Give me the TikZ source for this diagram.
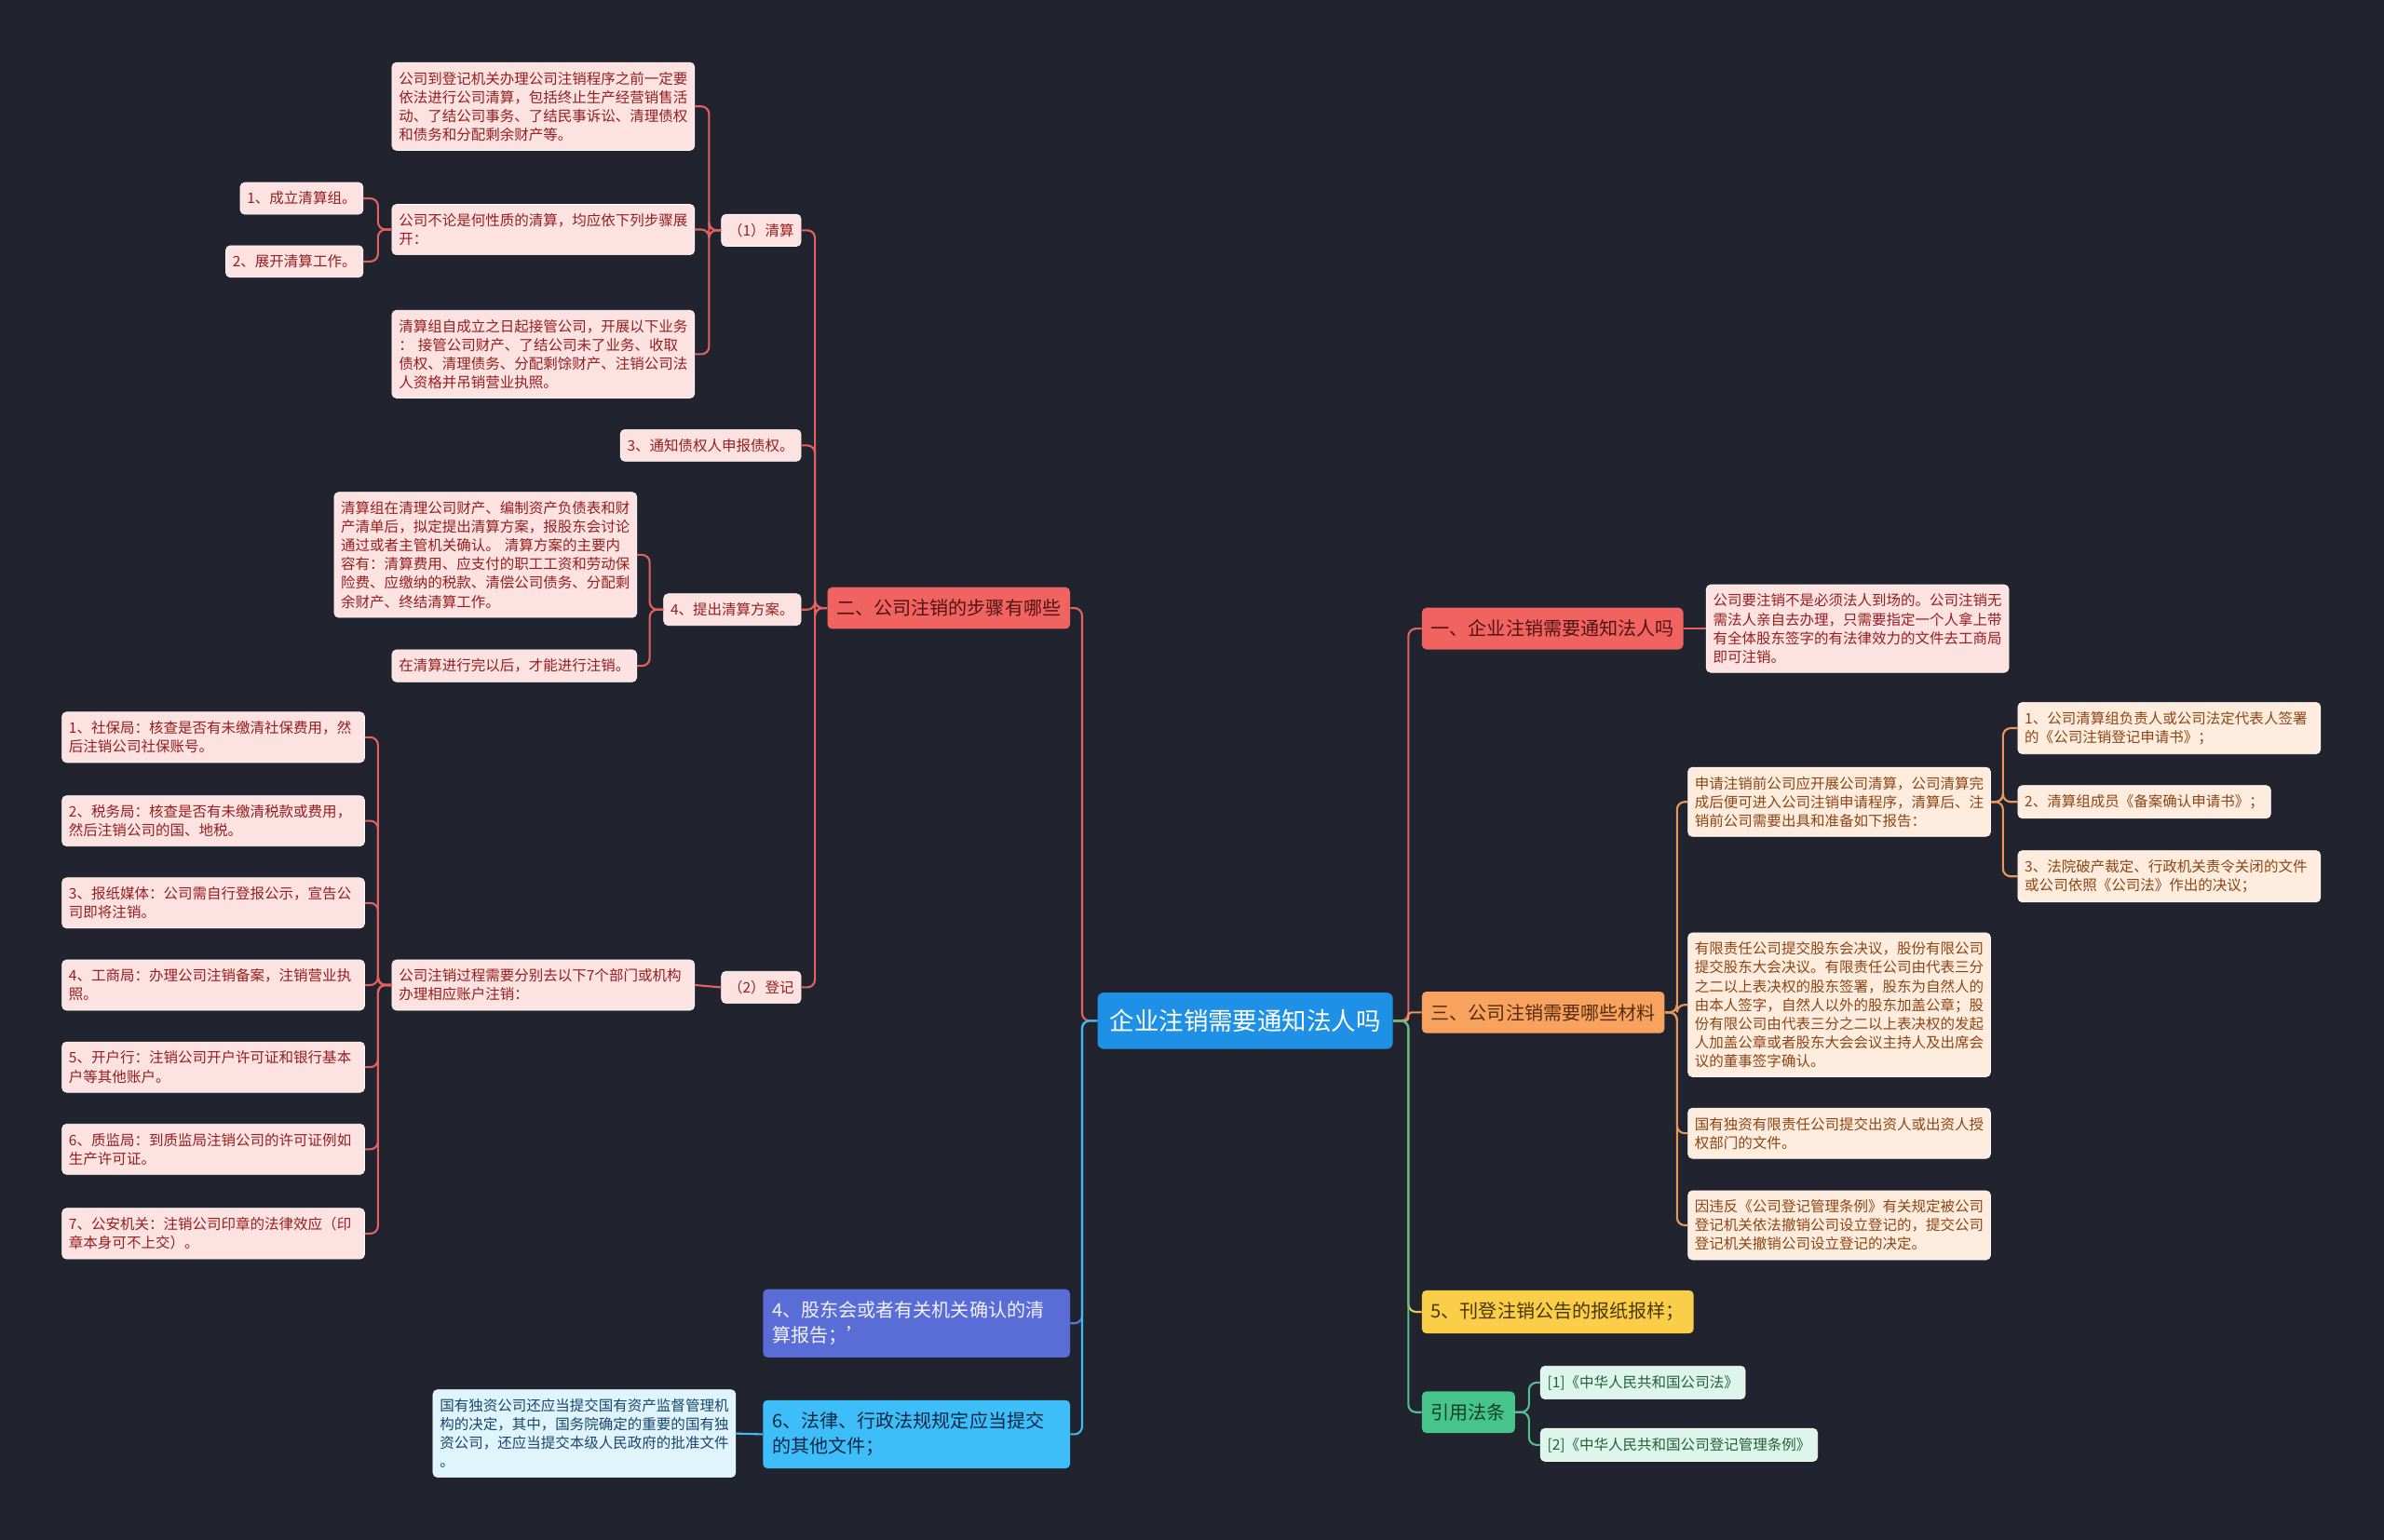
\documentclass[tikz,border=0pt]{standalone}
\usepackage{fontspec}
\setmainfont{Noto Sans CJK SC}
\usetikzlibrary{calc}

\definecolor{bgdark}{RGB}{33,36,46}
\definecolor{rootblue}{RGB}{30,145,230}
\definecolor{redM}{RGB}{240,99,96}
\definecolor{redMT}{RGB}{80,20,20}
\definecolor{redL}{RGB}{253,226,226}
\definecolor{redLT}{RGB}{150,30,30}
\definecolor{redLink}{RGB}{226,98,98}
\definecolor{orgM}{RGB}{247,162,94}
\definecolor{orgMT}{RGB}{90,45,10}
\definecolor{orgL}{RGB}{254,236,222}
\definecolor{orgLT}{RGB}{140,70,20}
\definecolor{orgLink}{RGB}{232,152,92}
\definecolor{yelM}{RGB}{250,206,72}
\definecolor{yelMT}{RGB}{75,55,0}
\definecolor{yelLink}{RGB}{238,200,70}
\definecolor{grnM}{RGB}{70,196,138}
\definecolor{grnMT}{RGB}{15,65,40}
\definecolor{grnL}{RGB}{222,245,235}
\definecolor{grnLT}{RGB}{35,95,65}
\definecolor{grnLink}{RGB}{80,192,140}
\definecolor{purM}{RGB}{90,108,214}
\definecolor{purMT}{RGB}{240,242,255}
\definecolor{purLink}{RGB}{92,118,222}
\definecolor{cyaM}{RGB}{62,190,248}
\definecolor{cyaMT}{RGB}{15,40,70}
\definecolor{cyaL}{RGB}{224,244,252}
\definecolor{cyaLT}{RGB}{25,70,110}
\definecolor{cyaLink}{RGB}{62,186,244}

\tikzset{
  topic/.style={fill=rootblue, text=white, rounded corners=4pt, inner xsep=8pt, inner ysep=11pt,
    font=\fontsize{16.2}{20}\selectfont},
  mainbox/.style={rounded corners=3pt, inner xsep=6pt, inner ysep=8pt, align=left,
    font=\fontsize{12.3}{16.5}\selectfont},
  leaf/.style={rounded corners=3pt, inner xsep=4.5pt, inner ysep=6pt, align=left,
    draw=white, line width=0.4pt, font=\fontsize{9.5}{12.3}\selectfont},
  wide/.style={text width=190pt},
  redmain/.style={mainbox, fill=redM, text=redMT},
  redleaf/.style={leaf, fill=redL, text=redLT},
  orgmain/.style={mainbox, fill=orgM, text=orgMT},
  orgleaf/.style={leaf, fill=orgL, text=orgLT},
  yelmain/.style={mainbox, fill=yelM, text=yelMT},
  grnmain/.style={mainbox, fill=grnM, text=grnMT},
  grnleaf/.style={leaf, fill=grnL, text=grnLT},
  purmain/.style={mainbox, fill=purM, text=purMT},
  cyamain/.style={mainbox, fill=cyaM, text=cyaMT},
  cyaleaf/.style={leaf, fill=cyaL, text=cyaLT},
  link/.style={line width=1.3pt, rounded corners=5pt},
  redlink/.style={link, draw=redLink},
  orglink/.style={link, draw=orgLink},
  yellink/.style={link, draw=yelLink},
  grnlink/.style={link, draw=grnLink},
  purlink/.style={link, draw=purLink},
  cyalink/.style={link, draw=cyaLink}
}

\begin{document}
\begin{tikzpicture}[x=1pt, y=-1pt]
\fill[bgdark] (0,0) rectangle (1568,1013);
\useasboundingbox (0,0) rectangle (1568,1013);

\node[topic] (root) at (819,671.5) {企业注销需要通知法人吗};

% left side
\node[redmain, anchor=east] (steps) at (704,400) {二、公司注销的步骤有哪些};
\node[redleaf, anchor=east] (clear) at (527,151.5) {（1）清算};
\node[redleaf, wide, anchor=east] (clrA) at (457,70) {公司到登记机关办理公司注销程序之前一定要\\依法进行公司清算，包括终止生产经营销售活\\动、了结公司事务、了结民事诉讼、清理债权\\和债务和分配剩余财产等。};
\node[redleaf, wide, anchor=east] (clrB) at (457,151) {公司不论是何性质的清算，均应依下列步骤展\\开：};
\node[redleaf, anchor=east] (grp1) at (239,130.5) {1、成立清算组。};
\node[redleaf, anchor=east] (grp2) at (239,172) {2、展开清算工作。};
\node[redleaf, wide, anchor=east] (clrC) at (457,233) {清算组自成立之日起接管公司，开展以下业务\\： 接管公司财产、了结公司未了业务、收取\\债权、清理债务、分配剩馀财产、注销公司法\\人资格并吊销营业执照。};
\node[redleaf, anchor=east] (notify) at (527,293) {3、通知债权人申报债权。};
\node[redleaf, anchor=east] (plan) at (527,401) {4、提出清算方案。};
\node[redleaf, wide, anchor=east] (planA) at (419,365) {清算组在清理公司财产、编制资产负债表和财\\产清单后，拟定提出清算方案，报股东会讨论\\通过或者主管机关确认。 清算方案的主要内\\容有：清算费用、应支付的职工工资和劳动保\\险费、应缴纳的税款、清偿公司债务、分配剩\\余财产、终结清算工作。};
\node[redleaf, anchor=east] (planB) at (419,438) {在清算进行完以后，才能进行注销。};
\node[redleaf, anchor=east] (reg) at (527,649.5) {（2）登记};
\node[redleaf, wide, anchor=east] (regA) at (457,648) {公司注销过程需要分别去以下7个部门或机构\\办理相应账户注销：};
\foreach \i/\yy/\txt in {
  1/485/{1、社保局：核查是否有未缴清社保费用，然\\后注销公司社保账号。},
  2/540/{2、税务局：核查是否有未缴清税款或费用，\\然后注销公司的国、地税。},
  3/594/{3、报纸媒体：公司需自行登报公示，宣告公\\司即将注销。},
  4/648/{4、工商局：办理公司注销备案，注销营业执\\照。},
  5/702/{5、开户行：注销公司开户许可证和银行基本\\户等其他账户。},
  6/756/{6、质监局：到质监局注销公司的许可证例如\\生产许可证。},
  7/811.5/{7、公安机关：注销公司印章的法律效应（印\\章本身可不上交）。}}{
  \node[redleaf, wide, anchor=east] (dept\i) at (240,\yy) {\txt};
  \draw[redlink] (regA.west) -- ++(-9,0) |- (dept\i.east);
}
\node[purmain, wide, anchor=east] (report) at (704,870.5) {4、股东会或者有关机关确认的清\\算报告；'};
\node[cyamain, wide, anchor=east] (other) at (704,943.5) {6、法律、行政法规规定应当提交\\的其他文件；};
\node[cyaleaf, wide, anchor=east] (otherA) at (484,943) {国有独资公司还应当提交国有资产监督管理机\\构的决定，其中，国务院确定的重要的国有独\\资公司，还应当提交本级人民政府的批准文件\\。};

% right side
\node[redmain, anchor=west] (notice) at (935,413.5) {一、企业注销需要通知法人吗};
\node[redleaf, wide, anchor=west] (noticeA) at (1122,413.5) {公司要注销不是必须法人到场的。公司注销无\\需法人亲自去办理，只需要指定一个人拿上带\\有全体股东签字的有法律效力的文件去工商局\\即可注销。};
\node[orgmain, anchor=west] (docs) at (935,666) {三、公司注销需要哪些材料};
\node[orgleaf, wide, anchor=west] (docsA) at (1110,527.5) {申请注销前公司应开展公司清算，公司清算完\\成后便可进入公司注销申请程序，清算后、注\\销前公司需要出具和准备如下报告：};
\node[orgleaf, wide, anchor=west] (docsA1) at (1327,479) {1、公司清算组负责人或公司法定代表人签署\\的《公司注销登记申请书》；};
\node[orgleaf, anchor=west] (docsA2) at (1327,527.5) {2、清算组成员《备案确认申请书》；};
\node[orgleaf, wide, anchor=west] (docsA3) at (1327,576.5) {3、法院破产裁定、行政机关责令关闭的文件\\或公司依照《公司法》作出的决议；};
\node[orgleaf, wide, anchor=west] (docsB) at (1110,661) {有限责任公司提交股东会决议，股份有限公司\\提交股东大会决议。有限责任公司由代表三分\\之二以上表决权的股东签署，股东为自然人的\\由本人签字，自然人以外的股东加盖公章；股\\份有限公司由代表三分之二以上表决权的发起\\人加盖公章或者股东大会会议主持人及出席会\\议的董事签字确认。};
\node[orgleaf, wide, anchor=west] (docsC) at (1110,745.5) {国有独资有限责任公司提交出资人或出资人授\\权部门的文件。};
\node[orgleaf, wide, anchor=west] (docsD) at (1110,806) {因违反《公司登记管理条例》有关规定被公司\\登记机关依法撤销公司设立登记的，提交公司\\登记机关撤销公司设立登记的决定。};
\node[yelmain, anchor=west] (paper) at (935,863) {5、刊登注销公告的报纸报样；};
\node[grnmain, anchor=west] (laws) at (935,929) {引用法条};
\node[grnleaf, anchor=west] (law1) at (1013,909.5) {[1]《中华人民共和国公司法》};
\node[grnleaf, anchor=west] (law2) at (1013,950.5) {[2]《中华人民共和国公司登记管理条例》};

% connectors
\draw[redlink] (root.west) -- ++(-10,0) |- (steps.east);
\draw[purlink] (root.west) -- ++(-10,0) |- (report.east);
\draw[cyalink] (root.west) -- ++(-10,0) |- (other.east);
\foreach \c in {clear,notify,plan,reg} \draw[redlink] (steps.west) -- ++(-8,0) |- (\c.east);
\foreach \c in {clrA,clrB,clrC} \draw[redlink] (clear.west) -- ++(-8,0) |- (\c.east);
\foreach \c in {grp1,grp2} \draw[redlink] (clrB.west) -- ++(-9,0) |- (\c.east);
\foreach \c in {planA,planB} \draw[redlink] (plan.west) -- ++(-9,0) |- (\c.east);
\draw[redlink] (reg.west) -- (regA.east);
\draw[cyalink] (other.west) -- (otherA.east);

\draw[redlink] (root.east) -- ++(10,0) |- (notice.west);
\draw[orglink, rounded corners=2pt] (root.east) -- ++(10,0) |- (docs.west);
\draw[yellink] (root.east) -- ++(10,0) |- (paper.west);
\draw[grnlink] (root.east) -- ++(10,0) |- (laws.west);
\draw[redlink] (notice.east) -- (noticeA.west);
\foreach \c in {docsA,docsB,docsC,docsD} \draw[orglink] (docs.east) -- ++(8,0) |- (\c.west);
\foreach \c in {docsA1,docsA2,docsA3} \draw[orglink] (docsA.east) -- ++(8,0) |- (\c.west);
\foreach \c in {law1,law2} \draw[grnlink] (laws.east) -- ++(9,0) |- (\c.west);
\end{tikzpicture}
\end{document}
